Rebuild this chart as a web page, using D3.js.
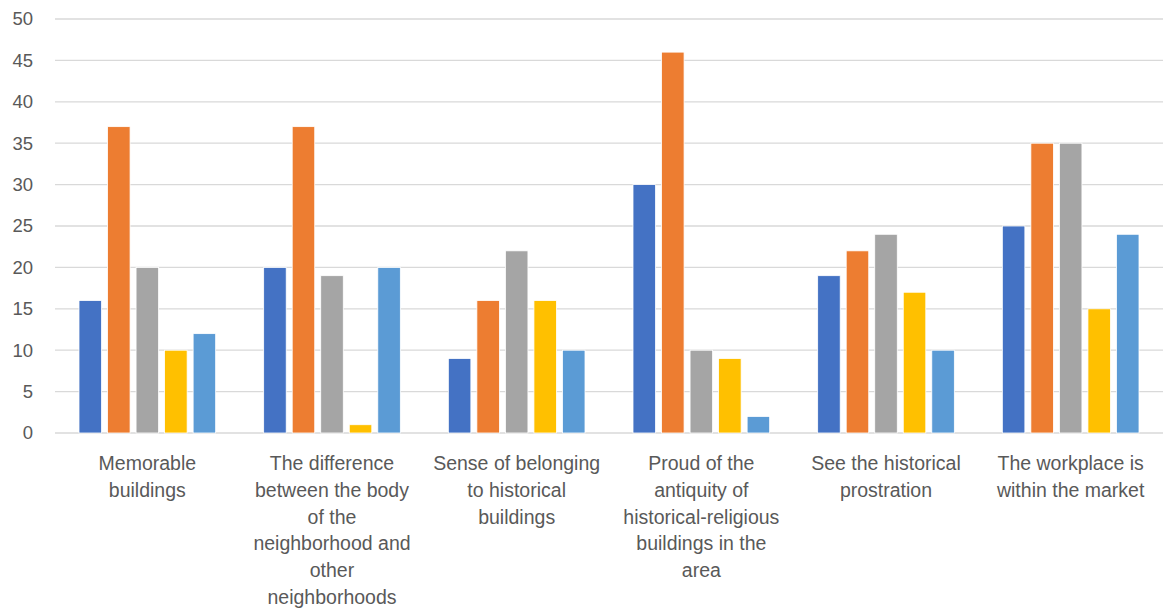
<!DOCTYPE html>
<html lang="en">
<head>
<meta charset="UTF-8">
<title>Chart</title>
<style>
  body { margin: 0; background: #fff; }
  text { font-family: "Liberation Sans", "DejaVu Sans", sans-serif; fill: #595959; }
</style>
</head>
<body>
<script src="https://d3js.org/d3.v7.min.js"></script>
<script>
  const categories = [
    ["Memorable", "buildings"],
    ["The difference", "between the body", "of the", "neighborhood and", "other", "neighborhoods"],
    ["Sense of belonging", "to historical", "buildings"],
    ["Proud of the", "antiquity of", "historical-religious", "buildings in the", "area"],
    ["See the historical", "prostration"],
    ["The workplace is", "within the market"]
  ];
  const series1 = [16, 20, 9, 30, 19, 25];
  const series2 = [37, 37, 16, 46, 22, 35];
  const series3 = [20, 19, 22, 10, 24, 35];
  const series4 = [10, 1, 16, 9, 17, 15];
  const series5 = [12, 20, 10, 2, 10, 24];
  const colors = ["#4472C4", "#ED7D31", "#A5A5A5", "#FFC000", "#5B9BD5"];
  const yTicks = [0, 5, 10, 15, 20, 25, 30, 35, 40, 45, 50];

  const allSeries = [series1, series2, series3, series4, series5];
  const w = 1163, h = 616;
  const mLeft = 55, mRight = 1163, mTop = 19, mBottom = 433;

  const svg = d3.select("body").append("svg").attr("width", w).attr("height", h);

  const x0 = d3.scaleBand().domain(d3.range(categories.length)).range([mLeft, mRight]);
  const x1 = d3.scaleBand().domain(d3.range(allSeries.length))
    .range([24, x0.bandwidth() - 24]).paddingInner(0.21);
  const y = d3.scaleLinear().domain([0, 50]).range([mBottom, mTop]);

  // gridlines
  svg.append("g").selectAll("line").data(yTicks).enter().append("line")
    .attr("x1", mLeft).attr("x2", mRight)
    .attr("y1", d => y(d)).attr("y2", d => y(d))
    .attr("stroke", "#D9D9D9").attr("stroke-width", 1.3);

  // y labels
  svg.append("g").selectAll("text").data(yTicks).enter().append("text")
    .attr("x", 33).attr("y", d => y(d)).attr("dy", "0.35em")
    .attr("text-anchor", "end").attr("font-size", 18.5)
    .text(d => d);

  // bars
  const groups = svg.append("g").selectAll("g").data(categories).enter().append("g")
    .attr("transform", (d, i) => `translate(${x0(i)},0)`);
  groups.selectAll("rect").data((d, i) => allSeries.map((s, k) => ({ k, v: s[i] })))
    .enter().append("rect")
    .attr("x", d => x1(d.k)).attr("width", x1.bandwidth())
    .attr("y", d => y(d.v)).attr("height", d => y(0) - y(d.v))
    .attr("fill", d => colors[d.k])
    .attr("stroke", "#fff").attr("stroke-width", 0.8);

  // x labels
  const lab = svg.append("g").selectAll("text").data(categories).enter().append("text")
    .attr("x", (d, i) => x0(i) + x0.bandwidth() / 2)
    .attr("y", 470).attr("text-anchor", "middle").attr("font-size", 19.5);
  lab.selectAll("tspan").data(d => d).enter().append("tspan")
    .attr("x", function () { return this.parentNode.getAttribute("x"); })
    .attr("dy", (d, i) => i === 0 ? 0 : 26.8)
    .text(d => d);
</script>
</body>
</html>
